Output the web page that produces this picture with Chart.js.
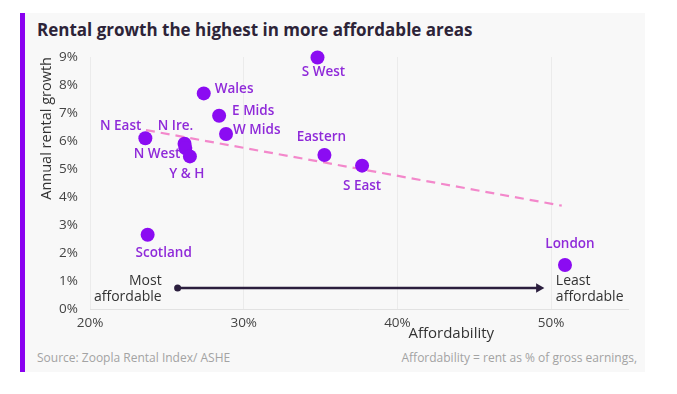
<!DOCTYPE html>
<html>
<head>
<meta charset="utf-8">
<script src="https://cdn.jsdelivr.net/npm/chart.js@4/dist/chart.umd.min.js"></script>
<style>
  html,body{margin:0;padding:0;background:#fff;width:677px;height:394px;overflow:hidden;}
  #card{position:absolute;left:20px;top:13px;width:620px;height:359px;background:#f8f8f8;border-left:5px solid #8a00f0;}
  #title{position:absolute;left:37px;top:18px;font-family:"Open Sans",sans-serif;font-weight:700;font-size:17px;color:#2d2438;white-space:nowrap;}
  #src{position:absolute;left:37px;top:349px;font-family:"Open Sans",sans-serif;font-size:12px;color:#a3a3a3;white-space:nowrap;}
  #note{position:absolute;right:40px;top:349px;font-family:"Open Sans",sans-serif;font-size:12px;color:#a3a3a3;white-space:nowrap;}
  #wrap{position:absolute;left:0;top:0;width:677px;height:394px;}
</style>
</head>
<body>
<div id="card"></div>
<div id="title">Rental growth the highest in more affordable areas</div>
<div id="src">Source: Zoopla Rental Index/ ASHE</div>
<div id="note">Affordability = rent as % of gross earnings,</div>
<div id="wrap"><canvas id="c" width="677" height="394"></canvas></div>
<script>
// ---- data ----
const regions       = ["N East","N Ire.","N West","Y & H","Scotland","Wales","E Mids","W Mids","S West","Eastern","S East","London"];
const affordability = [23.6, 26.15, 26.2, 26.5, 23.75, 27.4, 28.4, 28.85, 34.8, 35.25, 37.7, 50.9];
const rentalGrowth  = [6.1, 5.9, 5.75, 5.45, 2.65, 7.7, 6.9, 6.25, 8.98, 5.5, 5.12, 1.57];
const trendX = [23.64, 50.69];
const trendY = [6.39, 3.69];
const arrowX = [25.7, 49.2];
const arrowY = [0.75, 0.75];
const xTicks = [20, 30, 40, 50];
const yTicks = [0,1,2,3,4,5,6,7,8,9];
// label placement (style only): [dx, dy, align]
const labelPlacement = [[-4,-12,"right"],[-9,-18,"center"],[-5,6,"right"],[-3,18,"center"],[16,18,"center"],[11,-4,"left"],[13,-5,"left"],[7,-4,"left"],[6,15,"center"],[-3,-18,"center"],[0,21,"center"],[5,-21,"center"]];

const FONT = '"Open Sans", sans-serif';

const labelPlugin = {
  id: 'labels',
  afterDatasetsDraw(chart) {
    const ctx = chart.ctx;
    const meta = chart.getDatasetMeta(0);
    ctx.save();
    ctx.font = '600 13.5px ' + FONT;
    ctx.fillStyle = '#8f2ad9';
    ctx.textBaseline = 'middle';
    meta.data.forEach((pt, i) => {
      const [dx, dy, al] = labelPlacement[i];
      ctx.textAlign = al;
      ctx.fillText(regions[i], pt.x + dx, pt.y + dy);
    });
    // arrow annotations
    const am = chart.getDatasetMeta(2);
    const p0 = am.data[0], p1 = am.data[1];
    ctx.font = '14px ' + FONT;
    ctx.fillStyle = '#333333';
    ctx.textAlign = 'right';
    ctx.fillText('Most', p0.x - 16, p0.y - 7);
    ctx.fillText('affordable', p0.x - 16, p0.y + 9);
    ctx.textAlign = 'left';
    ctx.fillText('Least', p1.x + 17, p1.y - 7);
    ctx.fillText('affordable', p1.x + 17, p1.y + 9);
    // x axis title
    const xs = chart.scales.x;
    ctx.font = '15px ' + FONT;
    ctx.textAlign = 'left';
    ctx.fillText('Affordability', xs.getPixelForValue(40) + 11, 334);
    ctx.restore();
  }
};

new Chart(document.getElementById('c'), {
  type: 'scatter',
  data: {
    datasets: [
      {
        label: 'Regions',
        data: affordability.map((x, i) => ({x, y: rentalGrowth[i]})),
        backgroundColor: '#8b0cf2',
        borderWidth: 0,
        pointRadius: 7,
        pointHoverRadius: 7,
        clip: false,
        order: 1
      },
      {
        type: 'line',
        label: 'Trend',
        data: trendX.map((x, i) => ({x, y: trendY[i]})),
        borderColor: '#f388cb',
        borderWidth: 2.2,
        borderDash: [9, 6],
        pointRadius: 0,
        fill: false,
        order: 2
      },
      {
        type: 'line',
        label: 'Arrow',
        data: arrowX.map((x, i) => ({x, y: arrowY[i]})),
        borderColor: '#2b1e3e',
        backgroundColor: '#2b1e3e',
        borderWidth: 2.5,
        pointStyle: ['circle', 'triangle'],
        pointRotation: [0, 90],
        pointRadius: [3.5, 5.5],
        pointBorderWidth: 0,
        fill: false,
        order: 3
      }
    ]
  },
  options: {
    responsive: false,
    animation: false,
    events: [],
    layout: { padding: { top: 57, right: 49, left: 0, bottom: 0 } },
    plugins: { legend: { display: false }, tooltip: { enabled: false } },
    scales: {
      x: {
        type: 'linear',
        min: 20, max: 55,
        afterBuildTicks: s => { s.ticks = xTicks.map(v => ({value: v})); },
        afterFit: s => { s.height = 85; },
        ticks: { padding: 6, color: '#444', font: { family: FONT, size: 13.5 }, callback: v => v + '%' , maxRotation: 0},
        grid: { color: '#ebebeb', lineWidth: 1, drawTicks: false },
        border: { color: '#e2e2e2', width: 1 }
      },
      y: {
        min: 0, max: 9,
        afterBuildTicks: s => { s.ticks = yTicks.map(v => ({value: v})); },
        afterFit: s => { s.width = 90; },
        ticks: { padding: 12, color: '#444', font: { family: FONT, size: 13.5 }, callback: v => v + '%' },
        grid: { display: false, drawTicks: false },
        border: { display: false },
        title: { display: true, text: 'Annual rental growth', align: 'end', color: '#333', font: { family: FONT, size: 14.5 }, padding: { top: 38, bottom: 0 } }
      }
    }
  },
  plugins: [labelPlugin]
});
</script>
</body>
</html>
